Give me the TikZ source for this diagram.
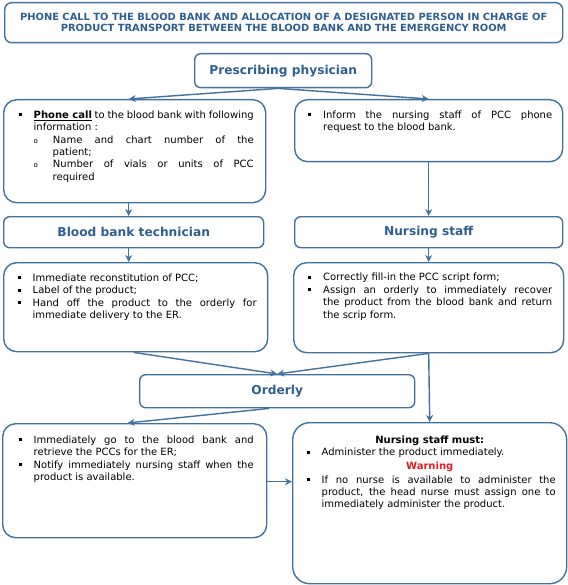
\documentclass[tikz,border=0pt]{standalone}
\usepackage{fontspec}
\setmainfont{DejaVu Sans}
\usetikzlibrary{arrows.meta, positioning}
\definecolor{boxblue}{HTML}{41719C}
\definecolor{headblue}{HTML}{2E5E8E}
\definecolor{warnred}{HTML}{E31B23}
\hyphenpenalty=10000
\exhyphenpenalty=10000
\newcommand{\bodyfont}{\fontsize{10}{12.4}\selectfont}
\newenvironment{boxitems}{\list{\rule[2pt]{3pt}{3pt}}{\leftmargin=18pt \labelwidth=3pt \labelsep=12pt \rightmargin=0pt \itemsep=0pt \parsep=0pt \topsep=0pt \partopsep=0pt}}{\endlist}
\newenvironment{subitems}{\list{\fontsize{7}{7}\selectfont o}{\leftmargin=19pt \labelwidth=4pt \labelsep=15pt \rightmargin=0pt \itemsep=0pt \parsep=0pt \topsep=0pt \partopsep=0pt}}{\endlist}

\begin{document}
\begin{tikzpicture}[x=1pt, y=-1pt,
	titlebox/.style = {draw=boxblue, line width=1.4pt, rounded corners=7pt, anchor=north west, inner sep=0pt, align=center, text=headblue, font=\fontsize{9.9}{11}\selectfont\bfseries},
	headbox/.style = {draw=boxblue, line width=1.4pt, rounded corners=6pt, anchor=north west, inner sep=0pt, text=headblue, font=\fontsize{12.2}{14}\selectfont\bfseries},
	textbox/.style = {draw=boxblue, line width=1.4pt, rounded corners=13pt, anchor=north west, inner sep=0pt},
	flow/.style = {draw=boxblue, line width=1.4pt, -{Stealth[length=7pt, width=7pt]}}]
	\useasboundingbox (0,0) rectangle (567,585);

	% headings
	\node[titlebox, minimum width=558, minimum height=40] (title) at (4,2) {PHONE CALL TO THE BLOOD BANK AND ALLOCATION OF A DESIGNATED PERSON IN CHARGE OF\\PRODUCT TRANSPORT BETWEEN THE BLOOD BANK AND THE EMERGENCY ROOM};
	\node[headbox, minimum width=177, minimum height=34] (phys) at (194,53) {Prescribing physician};
	\node[headbox, minimum width=260, minimum height=31] (tech) at (3,216) {Blood bank technician};
	\node[headbox, minimum width=268, minimum height=31] (nurse) at (294,216) {Nursing staff};
	\node[headbox, minimum width=275, minimum height=33] (ord) at (139,374) {Orderly};

	% task boxes
	\node[textbox, minimum width=262, minimum height=103] (call) at (3,99) {\parbox[c][81pt][t]{238pt}{\bodyfont
		\begin{boxitems}
			\item \textbf{\underline{Phone call}} to the blood bank with following information :
			\begin{subitems}
				\item Name and chart number of the\linebreak patient;
				\item Number of vials or units of PCC\linebreak required
			\end{subitems}
		\end{boxitems}}};
	\node[textbox, minimum width=268, minimum height=62] (inform) at (294,99) {\parbox[c][40pt][t]{247pt}{\bodyfont
		\begin{boxitems}
			\item Inform the nursing staff of PCC phone\linebreak request to the blood bank.
		\end{boxitems}}};
	\node[textbox, minimum width=264, minimum height=89] (recon) at (3,262) {\parbox[c][67pt][t]{242pt}{\bodyfont
		\begin{boxitems}
			\item Immediate reconstitution of PCC;
			\item Label of the product;
			\item Hand off the product to the orderly for\linebreak immediate delivery to the ER.
		\end{boxitems}}};
	\node[textbox, minimum width=270, minimum height=90] (fill) at (293,262) {\parbox[c][69pt][t]{247pt}{\bodyfont
		\begin{boxitems}
			\item Correctly fill-in the PCC script form;
			\item Assign an orderly to immediately recover\linebreak the product from the blood bank and return\linebreak the scrip form.
		\end{boxitems}}};
	\node[textbox, minimum width=264, minimum height=114] (go) at (2,423) {\parbox[c][90pt][t]{238pt}{\bodyfont
		\begin{boxitems}
			\item Immediately go to the blood bank and\linebreak retrieve the PCCs for the ER;
			\item Notify immediately nursing staff when the\linebreak product is available.
		\end{boxitems}}};
	\node[textbox, rounded corners=17pt, minimum width=274, minimum height=161] (must) at (292,422) {\parbox[c][135pt][t]{252pt}{\bodyfont
		{\centering\textbf{Nursing staff must:}\par}
		\begin{boxitems}
			\item Administer the product immediately.
		\end{boxitems}
		\vspace{1.5pt}
		{\centering\color{warnred}\textbf{Warning}\par}
		\vspace{1pt}
		\begin{boxitems}
			\item If no nurse is available to administer the\linebreak product, the head nurse must assign one to\linebreak immediately administer the product.
		\end{boxitems}}};

	% connectors
	\draw[flow] ([xshift=-5pt]phys.south) -- ([xshift=-6pt]call.north);
	\draw[flow] ([xshift=-5pt]phys.south) -- (inform.north);
	\draw[flow] ([xshift=-6pt]call.south) -- ([xshift=-5pt]tech.north);
	\draw[flow] (inform.south) -- (nurse.north);
	\draw[flow] ([xshift=-5pt]tech.south) -- ([xshift=-7pt]recon.north);
	\draw[flow] (nurse.south) -- (fill.north);
	\draw[flow] ([xshift=-2pt]recon.south) -- (ord.north);
	\draw[flow] (fill.south) -- (ord.north);
	\draw[flow] (fill.south) -- (must.north);
	\draw[flow] ([xshift=-8pt]ord.south) -- ([xshift=-7pt]go.north);
	\draw[flow] ([yshift=-1pt]go.east) -- ([yshift=-1pt]go.east -| must.west);
\end{tikzpicture}
\end{document}
